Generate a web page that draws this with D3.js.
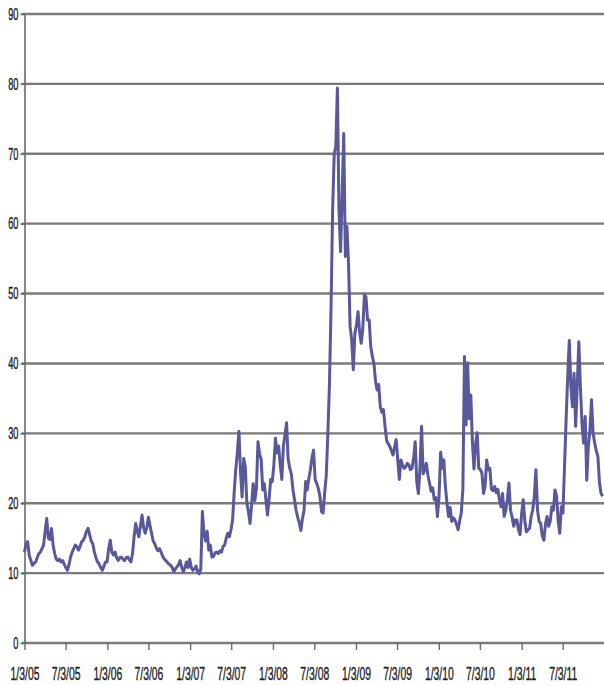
<!DOCTYPE html>
<html>
<head>
<meta charset="utf-8">
<script src="https://cdn.jsdelivr.net/npm/d3@7"></script>
<style>
  body { margin: 0; background: #fff; }
  svg { display: block; }
</style>
</head>
<body>
<div id="chart"></div>
<script>
// weekly closes, one array per year (weeks start Monday 1/3/05)
const vix2005 = [13.0, 14.2, 14.5, 12.5, 11.8, 11.1, 11.4, 11.6, 12.2, 12.8,
    13.0, 13.5, 14.0, 16.0, 17.8, 15.0, 14.8, 16.4, 14.0, 12.8,
    12.0, 11.8, 12.0, 11.6, 11.8, 11.3, 10.8, 10.4, 11.2, 12.3,
    13.0, 13.5, 14.0, 13.8, 13.3, 13.8, 14.5, 14.7, 15.2, 16.0,
    16.4, 15.5, 14.6, 14.2, 13.0, 12.2, 11.6, 11.3, 10.8, 10.4,
    11.0, 11.6];
const vix2006 = [11.6, 13.5, 14.7, 13.0, 12.6, 13.0, 12.2, 11.8, 12.2, 12.3,
    12.0, 11.8, 12.2, 12.3, 11.9, 11.6, 12.8, 15.2, 17.1, 16.0,
    15.2, 16.8, 18.3, 16.5, 15.7, 16.5, 18.0, 16.8, 15.7, 14.6,
    14.2, 13.6, 13.2, 13.5, 13.0, 12.4, 12.0, 11.8, 11.5, 11.3,
    11.1, 10.8, 10.2, 10.6, 10.9, 11.2, 11.8, 10.8, 10.2, 10.8,
    11.6, 10.8];
const vix2007 = [12.0, 10.8, 10.4, 10.6, 11.0, 10.2, 9.9, 10.6, 18.8, 15.7,
    14.6, 16.0, 13.3, 14.0, 12.3, 12.4, 12.9, 13.0, 12.8, 13.2,
    13.0, 13.8, 14.0, 15.0, 15.7, 15.2, 16.2, 17.6, 21.5, 24.8,
    27.2, 30.3, 24.5, 20.9, 26.4, 25.2, 20.0, 18.8, 17.1, 19.8,
    22.8, 20.4, 22.0, 28.8, 27.0, 26.3, 21.9, 22.8, 20.5, 18.3,
    20.6, 23.4];
const vix2008 = [23.1, 25.5, 29.3, 27.2, 28.2, 25.5, 23.4, 28.2, 29.8, 31.5,
    26.3, 25.0, 24.2, 22.0, 20.5, 19.0, 18.0, 17.2, 16.1, 17.8,
    19.0, 23.1, 21.9, 23.5, 24.8, 26.5, 27.6, 23.4, 22.8, 22.1,
    21.0, 18.8, 18.6, 21.5, 24.0, 30.0, 37.0, 48.0, 62.0, 70.0,
    71.0, 79.4, 62.0, 56.0, 64.4, 72.9, 55.3, 59.6, 54.3, 45.3,
    43.4, 39.1];
const vix2009 = [44.3, 45.5, 47.4, 44.5, 42.9, 45.0, 49.8, 49.5, 46.2, 46.2,
    42.4, 41.0, 40.0, 37.5, 36.2, 37.0, 33.8, 33.0, 33.4, 31.0,
    29.0, 28.5, 28.1, 27.5, 26.9, 28.0, 29.1, 26.2, 23.4, 26.2,
    25.5, 25.0, 25.2, 25.7, 25.5, 24.8, 25.0, 26.5, 28.8, 23.0,
    21.4, 25.0, 31.0, 24.2, 24.8, 25.7, 24.0, 22.9, 21.7, 22.2,
    20.5, 20.8];
const vix2010 = [18.1, 21.0, 27.3, 25.0, 26.2, 22.4, 20.0, 18.1, 19.4, 17.4,
    17.9, 17.6, 17.0, 16.2, 17.5, 18.6, 22.0, 41.0, 31.2, 40.1,
    32.1, 35.5, 28.8, 24.9, 28.5, 30.1, 25.0, 24.8, 24.3, 21.4,
    22.5, 26.2, 24.8, 25.0, 22.0, 21.8, 22.4, 21.5, 22.0, 20.5,
    19.5, 21.4, 18.1, 19.0, 20.5, 22.9, 19.0, 18.0, 16.7, 17.6,
    17.6, 16.2];
const vix2011 = [15.5, 18.5, 20.5, 17.5, 15.9, 16.2, 16.4, 18.1, 19.1, 21.0,
    24.8, 19.0, 17.4, 17.1, 15.3, 14.7, 17.0, 18.1, 16.7, 17.4,
    19.5, 19.0, 21.9, 21.0, 17.5, 15.7, 19.5, 18.6, 25.3, 32.0,
    38.1, 43.3, 36.7, 33.8, 38.6, 31.0, 36.7, 43.1, 36.7, 31.4,
    28.6, 32.4, 23.3, 28.1, 30.5, 34.8, 30.0, 28.6, 27.5, 26.7,
    23.0, 21.4, 21.0];

const tickLabels = ["1/3/05", "7/3/05", "1/3/06", "7/3/06", "1/3/07", "7/3/07", "1/3/08",
    "7/3/08", "1/3/09", "7/3/09", "1/3/10", "7/3/10", "1/3/11", "7/3/11"];
const yTicks = [0, 10, 20, 30, 40, 50, 60, 70, 80, 90];

const width = 604, height = 685;
const margin = {top: 14, right: 0, bottom: 42, left: 24.5};
const plotBottom = height - margin.bottom;   // y of the 0 line

const parseDate = d3.timeParse("%m/%d/%y");
const firstWeek = new Date(2005, 0, 3);

const values = [].concat(vix2005, vix2006, vix2007, vix2008, vix2009, vix2010, vix2011);
const data = values.map((v, i) => ({date: d3.timeDay.offset(firstWeek, 7 * i), value: v}));

const svg = d3.select("#chart").append("svg")
    .attr("width", width)
    .attr("height", height);

const x = d3.scaleTime()
    .domain([firstWeek, new Date(2012, 0, 1)])
    .range([margin.left, width - margin.right]);

const y = d3.scaleLinear()
    .domain([0, 90])
    .range([plotBottom, margin.top]);

// horizontal grid lines (the 0 line doubles as the x axis line)
svg.append("g")
    .selectAll("line")
    .data(yTicks)
    .enter()
    .append("line")
    .attr("x1", margin.left - 3)
    .attr("x2", width)
    .attr("y1", d => y(d))
    .attr("y2", d => y(d))
    .attr("stroke", "#7a7a7a")
    .attr("stroke-width", 2.4);

// text in the picture is tall and narrow, so squeeze it sideways
const squeeze = 0.56;
const labelFont = "'Liberation Sans', Arial, sans-serif";

const yAxis = svg.append("g")
    .attr("transform", "translate(" + margin.left + ",0)")
    .call(d3.axisLeft(y).tickValues(yTicks).tickSize(4).tickSizeOuter(0));
yAxis.select(".domain").attr("stroke", "#6a6a6a").attr("stroke-width", 1.6);
yAxis.selectAll(".tick line").attr("stroke", "#6a6a6a").attr("stroke-width", 1.4);
yAxis.selectAll(".tick text")
    .attr("x", -6 / squeeze)
    .attr("transform", "scale(" + squeeze + ",1)")
    .attr("fill", "#222")
    .attr("stroke", "#222")
    .attr("stroke-width", 0.4)
    .style("font-family", labelFont)
    .style("font-size", "16.5px");

const xAxis = svg.append("g")
    .attr("transform", "translate(0," + plotBottom + ")")
    .call(d3.axisBottom(x)
        .tickValues(tickLabels.map(parseDate))
        .tickFormat((d, i) => tickLabels[i])
        .tickSize(7)
        .tickPadding(17)
        .tickSizeOuter(0));
xAxis.select(".domain").remove();
xAxis.selectAll(".tick line").attr("stroke", "#6a6a6a").attr("stroke-width", 1.4);
xAxis.selectAll(".tick text")
    .attr("transform", "scale(" + squeeze + ",1)")
    .attr("fill", "#222")
    .attr("stroke", "#222")
    .attr("stroke-width", 0.4)
    .style("font-family", labelFont)
    .style("font-size", "18.5px");

const valueLine = d3.line()
    .x(d => x(d.date))
    .y(d => y(d.value));

svg.append("path")
    .datum(data)
    .attr("fill", "none")
    .attr("stroke", "#58589a")
    .attr("stroke-width", 3)
    .attr("stroke-linejoin", "round")
    .attr("d", valueLine);
</script>
</body>
</html>
